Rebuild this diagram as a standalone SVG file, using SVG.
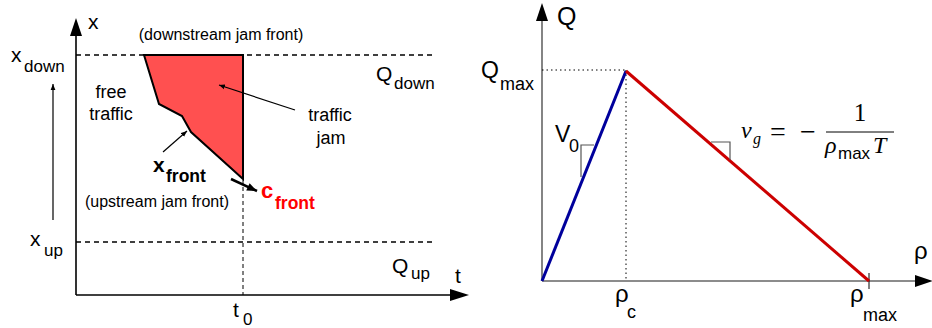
<svg xmlns="http://www.w3.org/2000/svg" width="932" height="328" viewBox="0 0 932 328">
<style>
text{font-family:"Liberation Sans",Arial,sans-serif;fill:#000}
.lab{font-size:21px}
.sub{font-size:17px}
.sm{font-size:16px}
.mid{font-size:18px}
.big{font-size:23px}
.dash{stroke:#000;stroke-width:1.6;stroke-dasharray:5,4;fill:none}
.dot{stroke:#000;stroke-width:1;stroke-dasharray:1.5,3;fill:none}
.math{font-family:"Liberation Serif","DejaVu Serif",serif;font-style:italic;font-size:24px}
</style>
<defs>
<marker id="ah" viewBox="0 0 10 10" refX="10" refY="5" markerWidth="6" markerHeight="6" orient="auto" markerUnits="userSpaceOnUse"><path d="M0,1L10,5L0,9z" fill="#000"/></marker>
<marker id="ahb" viewBox="0 0 10 10" refX="10" refY="5" markerWidth="13" markerHeight="10" orient="auto" markerUnits="userSpaceOnUse"><path d="M0,1L10,5L0,9z" fill="#000"/></marker>
</defs>
<g id="left-axes">
<line x1="76" y1="295" x2="76" y2="35" stroke="#000" stroke-width="1.6"/>
<path d="M76,18L70,36L82,36z" fill="#000"/>
<line x1="76" y1="295" x2="451" y2="295" stroke="#000" stroke-width="1.6"/>
<path d="M469,295L450,289L450,301z" fill="#000"/>
<text class="lab" x="88" y="29">x</text>
<text class="lab" x="455" y="283">t</text>
<text class="lab" x="233" y="317">t</text><text class="sub" x="243" y="325">0</text>
</g>
<g id="bounds">
<line class="dash" x1="76" y1="55" x2="434" y2="55"/>
<line class="dash" x1="76" y1="242" x2="434" y2="242"/>
<line x1="243" y1="180" x2="243" y2="295" stroke="#000" stroke-width="1" stroke-dasharray="4,3"/>
<line x1="53" y1="220" x2="53" y2="84" stroke="#000" stroke-width="1.2" marker-end="url(#ah)"/>
<text class="lab" x="11" y="62">x</text><text class="sub" x="24" y="72">down</text>
<text class="lab" x="30" y="246">x</text><text class="sub" x="44" y="256">up</text>
<text class="lab" x="376" y="81">Q</text><text class="sub" x="394" y="89">down</text>
<text class="lab" x="392" y="273">Q</text><text class="sub" x="411" y="279">up</text>
<text class="sm" x="221" y="40" text-anchor="middle">(downstream jam front)</text>
<text class="sm" x="157" y="207" text-anchor="middle">(upstream jam front)</text>
</g>
<g id="jam">
<path d="M144,55L159,104L182,116L191,132L243,179L243,55z" fill="#ff5050" stroke="#000" stroke-width="2" stroke-linejoin="miter"/>
<text class="mid" x="330" y="121" text-anchor="middle">traffic</text>
<text class="mid" x="331" y="144" text-anchor="middle">jam</text>
</g>
<g id="free">
<text class="mid" x="111" y="98" text-anchor="middle">free</text>
<text class="mid" x="111" y="120" text-anchor="middle">traffic</text>
</g>
<g id="front">
<text x="153" y="172" style="font-size:21px;font-weight:bold">x</text><text x="166" y="182" style="font-size:17.5px;font-weight:bold">front</text>
<text x="261" y="198" style="font-size:22px;font-weight:bold;fill:#ff0000">c</text><text x="275" y="209" style="font-size:17.5px;font-weight:bold;fill:#ff0000">front</text>
</g>
<g id="connectors">
<line x1="295" y1="110" x2="219" y2="85" stroke="#000" stroke-width="1.2" marker-end="url(#ah)"/>
<line x1="163" y1="152" x2="187" y2="131" stroke="#000" stroke-width="1.2" marker-end="url(#ah)"/>
<line x1="231" y1="179" x2="257" y2="191" stroke="#000" stroke-width="2.5" marker-end="url(#ahb)"/>
</g>
<g id="right-axes">
<line x1="542" y1="281" x2="542" y2="20" stroke="#666" stroke-width="1.6"/>
<path d="M542,3L536,21L548,21z" fill="#000"/>
<line x1="542" y1="281" x2="916" y2="281" stroke="#666" stroke-width="1.6"/>
<path d="M933,281L915,275L915,287z" fill="#000"/>
<line x1="869" y1="273" x2="869" y2="289" stroke="#000" stroke-width="1"/>
<text x="557" y="25" style="font-size:25px">Q</text>
<text x="914" y="259" style="font-size:24px">ρ</text>
<text class="big" x="481" y="78">Q</text><text class="sub" x="500" y="90" style="font-size:18px">max</text>
<text x="615" y="302" style="font-size:24px">ρ</text><text class="sub" x="627" y="318" style="font-size:18px">c</text>
<text x="850" y="302" style="font-size:24px">ρ</text><text class="sub" x="863" y="321" style="font-size:18px">max</text>
<line class="dot" x1="542" y1="70" x2="626" y2="70"/>
<line class="dot" x1="626" y1="70" x2="626" y2="281"/>
</g>
<g id="free-branch">
<line x1="542" y1="281" x2="626" y2="71" stroke="#00009c" stroke-width="3"/>
<path d="M581,177V145H594" fill="none" stroke="#555" stroke-width="1.2"/>
<text class="big" x="555" y="142">V</text><text class="sub" x="569" y="152" style="font-size:18px">0</text>
</g>
<g id="cong-branch">
<line x1="626" y1="71" x2="869" y2="281" stroke="#cc0000" stroke-width="3"/>
<path d="M711,142H730V160" fill="none" stroke="#555" stroke-width="1.2"/>
<text class="math" x="741" y="138">v</text><text class="math" x="753" y="144" style="font-size:16px">g</text>
<text x="770" y="141" style="font-family:'Liberation Serif',serif;font-size:28px">=</text>
<text x="800" y="141" style="font-family:'Liberation Serif',serif;font-size:28px">−</text>
<text x="860" y="121" text-anchor="middle" style="font-family:'Liberation Serif',serif;font-size:25px">1</text>
<line x1="826" y1="132" x2="894" y2="132" stroke="#000" stroke-width="1"/>
<text class="math" x="825" y="153">ρ</text><text x="838" y="159" style="font-size:17px">max</text><text class="math" x="873" y="153">T</text>
</g>
</svg>
